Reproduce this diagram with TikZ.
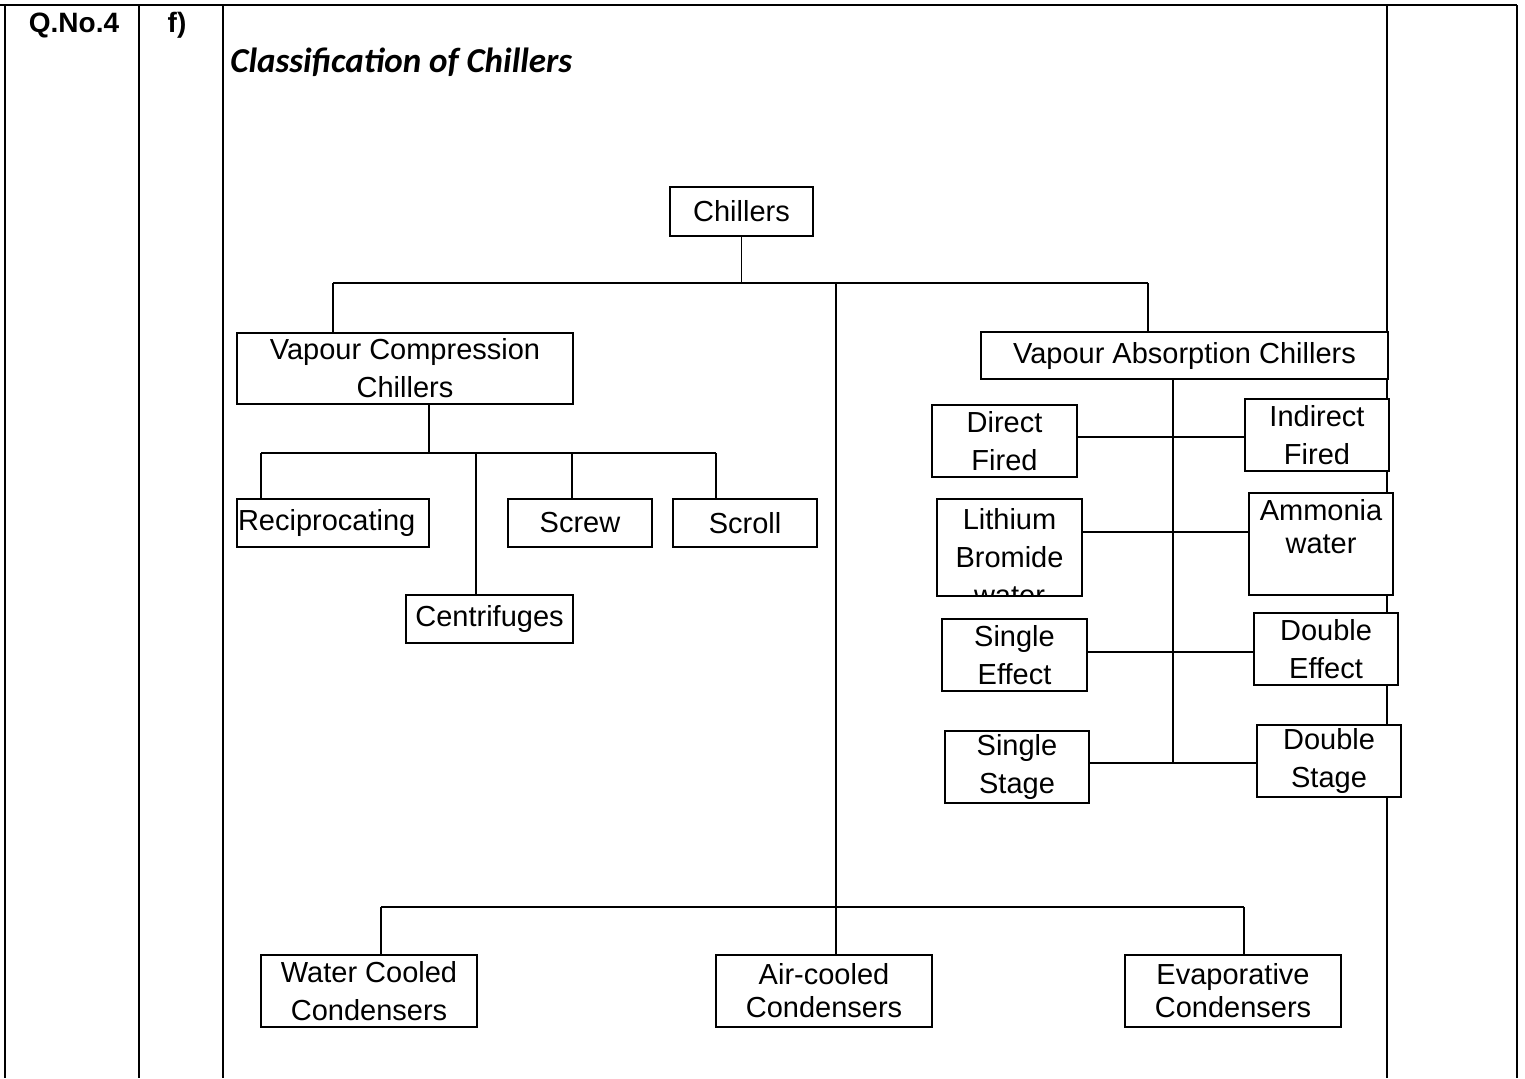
\documentclass[tikz,border=0pt]{standalone}
\usepackage{fontspec}
\setmainfont{Liberation Sans}
\newfontfamily\calib{Carlito}
\usepackage{tikz}

\begin{document}
\begin{tikzpicture}[x=.5pt,y=-.5pt]
    \tikzset{font={\fontsize{14.5}{19}\selectfont},
      tbl/.style={line width=1.4pt},
      conn/.style={line width=.7pt},
      cbox/.style={draw,line width=.7pt,fill=white,align=center,inner sep=0pt},
      tight/.style={font={\fontsize{14.5}{16.5}\selectfont}},
      head/.style={anchor=base,inner sep=0pt,font={\fontsize{14}{16}\selectfont\bfseries}}}
    \useasboundingbox (0,0) rectangle (1525,1078);
    % table frame
    \draw[tbl] (0,5)--(1517,5);
    \foreach \x in {5,139,223,1387,1517}
      \draw[tbl] (\x,5)--(\x,1078);
    \node[head] (qno) at (74,32) {Q.No.4};
    \node[head] (part) at (177,32) {f)};
    \node[anchor=base west,inner sep=0pt,font={\calib\bfseries\itshape\fontsize{17.5}{21}\selectfont}] (title) at (230,72.5) {Classification of Chillers};
    % boxes
    \node[cbox,minimum width=71.5pt,minimum height=24.5pt] (chl) at (741.5,211.5) {Chillers};
    \node[cbox,minimum width=168pt,minimum height=35.5pt] (vc) at (405,368.5) {Vapour Compression\\Chillers};
    \node[cbox,minimum width=203.5pt,minimum height=23.5pt] (va) at (1184.5,355.5) {Vapour Absorption Chillers};
    \node[cbox,text width=95pt,inner xsep=.5pt,align=left,minimum height=24pt] (rec) at (333,523) {Reciprocating};
    \node[cbox,minimum width=72pt,minimum height=24pt] (scw) at (580,523) {Screw};
    \node[cbox,minimum width=72pt,minimum height=24pt] (scr) at (745,523) {Scroll};
    \node[cbox,minimum width=83.5pt,minimum height=24pt] (cen) at (489.5,619) {Centrifuges};
    \node[cbox,minimum width=72.5pt,minimum height=36pt] (dfr) at (1004.5,441) {Direct\\Fired};
    \node[cbox,minimum width=72pt,minimum height=36pt] (ifr) at (1317,435) {Indirect\\Fired};
    \node[cbox,minimum width=72.5pt,minimum height=48.5pt,path picture={
      \node[inner sep=0pt,align=center] (libtxt) at ([yshift=-4.6pt]path picture bounding box.center) {Lithium\\Bromide\\water};}] (lib) at (1009.5,547.5) {};
    \node[cbox,minimum width=72pt,minimum height=51pt,path picture={
      \node[inner sep=0pt,align=center,tight] (amwtxt) at ([yshift=8.7pt]path picture bounding box.center) {Ammonia\\water};}] (amw) at (1321,544) {};
    \node[cbox,minimum width=72.5pt,minimum height=36pt] (sef) at (1014.5,655) {Single\\Effect};
    \node[cbox,minimum width=72pt,minimum height=36pt] (def) at (1326,649) {Double\\Effect};
    \node[cbox,minimum width=72pt,minimum height=36pt] (sst) at (1017,767) {Single\\Stage};
    \node[cbox,minimum width=72pt,minimum height=36pt] (dst) at (1329,761) {Double\\Stage};
    \node[cbox,minimum width=108pt,minimum height=36pt] (wcc) at (369,991) {Water Cooled\\Condensers};
    \node[cbox,tight,minimum width=108pt,minimum height=36pt] (acc) at (824,991) {Air-cooled\\Condensers};
    \node[cbox,tight,minimum width=108pt,minimum height=36pt] (evc) at (1233,991) {Evaporative\\Condensers};
    % junction points
    \coordinate (tb1) at (333,283);
    \coordinate (tb2) at (836,283);
    \coordinate (tb3) at (1148,283);
    \coordinate (vcb) at (429,453);
    \coordinate (vcb1) at (261,453);
    \coordinate (vcb2) at (476,453);
    \coordinate (vcb3) at (572,453);
    \coordinate (vcb4) at (716,453);
    \coordinate (va1) at (1173,437);
    \coordinate (va2) at (1173,532);
    \coordinate (va3) at (1173,652);
    \coordinate (va4) at (1173,763);
    \coordinate (bb1) at (381,907);
    \coordinate (bb3) at (1244,907);
    % top level
    \draw[conn] (chl.south)--(chl.south |- tb1);
    \draw[conn] (tb1)--(tb3);
    \draw[conn] (tb1)--(vc.north -| tb1);
    \draw[conn] (tb3)--(va.north -| tb3);
    \draw[conn] (tb2)--(acc.north -| tb2);
    % vapour compression
    \draw[conn] (vc.south -| vcb)--(vcb);
    \draw[conn] (vcb1)--(vcb4);
    \draw[conn] (vcb1)--(rec.north -| vcb1);
    \draw[conn] (vcb2)--(cen.north -| vcb2);
    \draw[conn] (vcb3)--(scw.north -| vcb3);
    \draw[conn] (vcb4)--(scr.north -| vcb4);
    % vapour absorption
    \draw[conn] (va.south -| va4)--(va4);
    \draw[conn] (dfr.east |- va1)--(ifr.west |- va1);
    \draw[conn] (lib.east |- va2)--(amw.west |- va2);
    \draw[conn] (sef.east |- va3)--(def.west |- va3);
    \draw[conn] (sst.east |- va4)--(dst.west |- va4);
    % condensers
    \draw[conn] (bb1)--(bb3);
    \draw[conn] (bb1)--(wcc.north -| bb1);
    \draw[conn] (bb3)--(evc.north -| bb3);
\end{tikzpicture}
\end{document}
